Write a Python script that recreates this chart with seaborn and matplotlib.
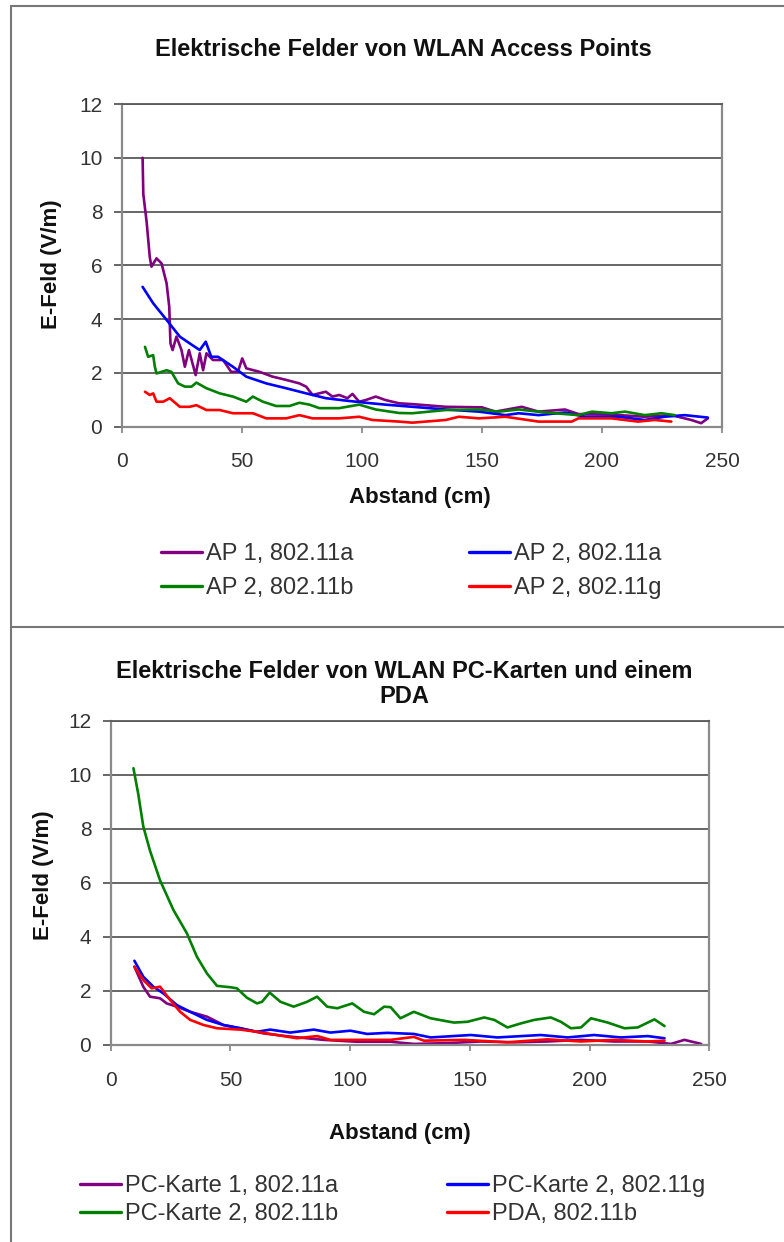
import numpy as np
import pandas as pd
import matplotlib
matplotlib.use("Agg")
import matplotlib.pyplot as plt
from matplotlib.lines import Line2D
import seaborn as sns

# ---------------- data ----------------
# top chart: access points
ap1_a_x = [8.7, 9.0, 10.4, 11.7, 12.4, 14.5, 16.6, 18.7, 19.8, 20.3, 21.2, 22.8, 24.9, 26.3, 28.0,
           30.8, 32.5, 33.9, 35.3, 38.0, 42.2, 45.6, 48.4, 50.2, 51.9, 57.4, 62.9, 68.5, 74.0, 76.8,
           79.5, 85.0, 87.8, 90.6, 94.0, 96.1, 98.9, 101.6, 105.8, 109.9, 115.5, 121.0, 134.9, 150.0,
           155.6, 166.6, 173.6, 184.6, 190.2, 204.0, 217.8, 228.9, 237.2, 241.3, 244.1]
ap1_a_y = [10.0, 8.65, 7.6, 6.3, 5.95, 6.26, 6.07, 5.33, 4.46, 3.1, 2.85, 3.35, 2.85, 2.23, 2.85,
           1.92, 2.73, 2.1, 2.73, 2.48, 2.48, 2.04, 2.04, 2.54, 2.17, 2.04, 1.86, 1.74, 1.61, 1.49,
           1.18, 1.3, 1.12, 1.18, 1.06, 1.22, 0.93, 0.99, 1.12, 0.99, 0.87, 0.84, 0.74, 0.72,
           0.56, 0.74, 0.56, 0.64, 0.47, 0.45, 0.37, 0.43, 0.25, 0.13, 0.31]

ap2_a_x = [8.7, 13.1, 18.7, 24.2, 28.3, 32.5, 35.0, 37.3, 40.1, 46.3, 51.9, 60.2, 68.5, 76.8, 85.0,
           93.4, 101.6, 109.9, 115.5, 134.9, 148.8, 159.8, 165.3, 173.6, 184.6, 193.0, 206.8, 217.8,
           226.1, 234.4, 244.1]
ap2_a_y = [5.2, 4.59, 3.97, 3.35, 3.1, 2.85, 3.16, 2.6, 2.6, 2.23, 1.86, 1.61, 1.43, 1.24, 1.06,
           0.97, 0.89, 0.82, 0.78, 0.64, 0.56, 0.43, 0.5, 0.43, 0.53, 0.37, 0.37, 0.25,
           0.37, 0.43, 0.34]

ap2_b_x = [9.7, 11.0, 13.1, 13.8, 14.5, 18.7, 20.7, 23.5, 26.3, 29.1, 31.1, 35.3, 40.8, 46.3, 51.9,
           54.6, 58.8, 64.3, 69.9, 74.0, 78.2, 82.3, 90.6, 98.9, 105.8, 115.5, 121.0, 134.9, 148.8,
           157.0, 165.3, 176.4, 190.2, 195.8, 204.0, 209.6, 217.8, 224.8, 230.3]
ap2_b_y = [2.97, 2.6, 2.66, 2.23, 1.98, 2.1, 2.04, 1.61, 1.49, 1.49, 1.64, 1.43, 1.24, 1.12, 0.93,
           1.12, 0.93, 0.77, 0.77, 0.89, 0.82, 0.69, 0.69, 0.82, 0.64, 0.51, 0.5, 0.62, 0.64,
           0.56, 0.64, 0.53, 0.43, 0.56, 0.5, 0.56, 0.43, 0.5, 0.43]

ap2_g_x = [9.7, 11.7, 13.1, 14.5, 17.3, 20.0, 24.2, 28.3, 31.1, 35.3, 40.8, 46.3, 54.6, 60.2, 68.5,
           74.0, 79.5, 90.6, 98.9, 104.4, 115.5, 121.0, 134.9, 140.4, 148.8, 159.8, 173.6, 187.4,
           190.2, 204.0, 215.0, 222.0, 228.9]
ap2_g_y = [1.3, 1.18, 1.24, 0.93, 0.93, 1.06, 0.74, 0.74, 0.8, 0.62, 0.62, 0.5, 0.5, 0.31, 0.31,
           0.43, 0.31, 0.31, 0.37, 0.25, 0.19, 0.15, 0.25, 0.37, 0.31, 0.37, 0.19, 0.19,
           0.31, 0.31, 0.19, 0.25, 0.19]

# bottom chart: pc cards and pda
pc1_a_x = [9.9, 13.6, 16.4, 20.6, 23.4, 27.6, 33.2, 40.2, 47.1, 54.1, 63.8, 75.0, 88.9, 102.9, 116.9,
           126.6, 140.6, 154.6, 168.5, 182.4, 196.4, 210.3, 224.3, 234.0, 239.6, 246.6]
pc1_a_y = [2.9, 2.16, 1.79, 1.73, 1.54, 1.42, 1.23, 1.05, 0.74, 0.62, 0.43, 0.31, 0.19, 0.12, 0.12,
           0.04, 0.07, 0.13, 0.1, 0.13, 0.19, 0.13, 0.13, 0.04, 0.19, 0.04]

pc2_g_x = [9.9, 13.6, 17.8, 22.0, 27.6, 33.2, 40.2, 47.1, 54.1, 61.1, 66.6, 75.0, 84.8, 91.8, 100.1,
           107.1, 115.5, 126.6, 133.6, 150.4, 161.5, 179.6, 190.8, 201.9, 213.1, 224.3, 231.3]
pc2_g_y = [3.12, 2.53, 2.16, 1.91, 1.48, 1.23, 0.93, 0.74, 0.62, 0.49, 0.57, 0.46, 0.57, 0.46, 0.53,
           0.41, 0.45, 0.41, 0.28, 0.37, 0.28, 0.37, 0.28, 0.37, 0.28, 0.33, 0.25]

pc2_b_x = [9.5, 11.5, 13.6, 16.4, 20.6, 26.2, 31.8, 36.0, 40.2, 44.4, 49.9, 52.7, 56.9, 61.1, 63.2,
           66.4, 70.9, 76.4, 82.0, 86.2, 90.4, 94.6, 100.9, 105.8, 110.0, 114.2, 116.9, 121.0, 126.6,
           133.6, 143.4, 149.0, 156.0, 160.2, 165.7, 171.3, 176.9, 183.8, 188.0, 192.2, 196.4, 200.6,
           207.6, 214.6, 220.1, 227.1, 231.3]
pc2_b_y = [10.25, 9.3, 8.1, 7.2, 6.1, 5.0, 4.14, 3.27, 2.65, 2.19, 2.14, 2.1, 1.75, 1.54, 1.6,
           1.94, 1.6, 1.42, 1.6, 1.79, 1.42, 1.36, 1.54, 1.23, 1.14, 1.42, 1.4, 0.99, 1.23,
           0.99, 0.83, 0.86, 1.02, 0.93, 0.65, 0.8, 0.93, 1.02, 0.86, 0.62, 0.65, 0.99,
           0.83, 0.62, 0.65, 0.95, 0.7]

pda_b_x = [9.9, 13.6, 17.1, 20.6, 24.8, 29.0, 33.2, 38.8, 44.4, 54.1, 61.1, 69.4, 77.8, 86.2, 91.8,
           102.9, 116.9, 126.6, 130.8, 147.6, 165.7, 182.4, 196.4, 210.3, 224.3, 231.3]
pda_b_y = [2.9, 2.41, 2.1, 2.16, 1.67, 1.23, 0.93, 0.74, 0.62, 0.57, 0.49, 0.37, 0.25, 0.33, 0.19,
           0.19, 0.19, 0.3, 0.16, 0.19, 0.1, 0.21, 0.13, 0.19, 0.13, 0.16]

labels_top = ["AP 1, 802.11a", "AP 2, 802.11a", "AP 2, 802.11b", "AP 2, 802.11g"]
labels_bot = ["PC-Karte 1, 802.11a", "PC-Karte 2, 802.11g", "PC-Karte 2, 802.11b", "PDA, 802.11b"]
colors = ["#800080", "#0000ff", "#008000", "#ff0000"]

title_top = "Elektrische Felder von WLAN Access Points"
title_bot = "Elektrische Felder von WLAN PC-Karten und einem\nPDA"
x_ticks = [0, 50, 100, 150, 200, 250]
y_ticks = [0, 2, 4, 6, 8, 10, 12]


def long_frame(series):
    parts = []
    for label, xs, ys in series:
        parts.append(pd.DataFrame({"Abstand": xs, "E": ys, "Serie": label}))
    return pd.concat(parts, ignore_index=True)


df_top = long_frame([(labels_top[0], ap1_a_x, ap1_a_y), (labels_top[1], ap2_a_x, ap2_a_y),
                     (labels_top[2], ap2_b_x, ap2_b_y), (labels_top[3], ap2_g_x, ap2_g_y)])
df_bot = long_frame([(labels_bot[0], pc1_a_x, pc1_a_y), (labels_bot[1], pc2_g_x, pc2_g_y),
                     (labels_bot[2], pc2_b_x, pc2_b_y), (labels_bot[3], pda_b_x, pda_b_y)])

# ---------------- figure ----------------
sns.set_theme(style="white")
plt.rcParams["font.family"] = ["Liberation Sans", "DejaVu Sans"]

W, H = 784, 1242
fig = plt.figure(figsize=(W / 100, H / 100), dpi=100)
fig.patch.set_facecolor("white")


def fx(px):
    return px / W


def fy(py):
    return 1 - py / H


ax_top = fig.add_axes([fx(121.7), fy(426.7), (722 - 121.7) / W, (426.7 - 104) / H])
ax_bot = fig.add_axes([fx(110.7), fy(1045), (709.3 - 110.7) / W, (1045 - 721) / H])

GRID = "#5a5a5a"
SPINE = "#8a8a8a"
TXT = "#333333"


def draw_panel(ax, df, labels):
    sns.lineplot(data=df, x="Abstand", y="E", hue="Serie", hue_order=labels,
                 palette=dict(zip(labels, colors)), estimator=None, sort=False,
                 lw=1.9, ax=ax, legend=False)
    ax.set_xlim(0, 250)
    ax.set_ylim(0, 12)
    ax.set_xticks(x_ticks)
    ax.set_yticks(y_ticks)
    ax.yaxis.grid(True, color=GRID, lw=1.3)
    ax.xaxis.grid(False)
    ax.set_xlabel("")
    ax.set_ylabel("")
    for s in ax.spines.values():
        s.set_color(SPINE)
        s.set_linewidth(1.6)
    ax.spines["top"].set_color(GRID)
    ax.spines["top"].set_linewidth(1.3)
    ax.tick_params(axis="y", left=True, length=6, width=1.3, color=GRID, pad=8,
                   labelsize=15, labelcolor=TXT)
    ax.tick_params(axis="x", bottom=True, length=4.5, width=1.3, color=SPINE, pad=14,
                   labelsize=15, labelcolor=TXT)


draw_panel(ax_top, df_top, labels_top)
draw_panel(ax_bot, df_bot, labels_bot)

# titles and axis labels
fig.text(fx(403), fy(50), title_top, ha="center", va="center", fontsize=17, fontweight="bold",
         color="#111111")
fig.text(fx(404), fy(684), title_bot, ha="center", va="center", fontsize=17, fontweight="bold",
         color="#111111", linespacing=1.1)
fig.text(fx(51), fy(264), "E-Feld (V/m)", rotation=90, ha="center", va="center", fontsize=16,
         fontweight="bold", color="#111111")
fig.text(fx(44), fy(875), "E-Feld (V/m)", rotation=90, ha="center", va="center", fontsize=16,
         fontweight="bold", color="#111111")
fig.text(fx(420), fy(498), "Abstand (cm)", ha="center", va="center", fontsize=16,
         fontweight="bold", color="#111111")
fig.text(fx(400), fy(1133), "Abstand (cm)", ha="center", va="center", fontsize=16,
         fontweight="bold", color="#111111")

# legends (row-major order as in the chart)
order = [0, 2, 1, 3]
handles = [Line2D([0], [0], color=colors[i], lw=2.4) for i in order]
fig.legend(handles, [labels_top[i] for i in order], ncol=2, loc="center left",
           bbox_to_anchor=(fx(161), fy(571)), frameon=False, fontsize=17, handlelength=1.74,
           handletextpad=0.17, borderpad=0, borderaxespad=0, columnspacing=4.9,
           labelspacing=0.5, labelcolor=TXT)
fig.legend(handles, [labels_bot[i] for i in order], ncol=2, loc="center left",
           bbox_to_anchor=(fx(80), fy(1200)), frameon=False, fontsize=17, handlelength=1.74,
           handletextpad=0.17, borderpad=0, borderaxespad=0, columnspacing=4.6,
           labelspacing=0.25, labelcolor=TXT)

# chart area frame
FRAME = "#777777"
fig.add_artist(Line2D([fx(11), 1], [fy(6), fy(6)], transform=fig.transFigure, color=FRAME, lw=1.5))
fig.add_artist(Line2D([fx(11), fx(11)], [fy(6), 0], transform=fig.transFigure, color=FRAME, lw=1.5))
fig.add_artist(Line2D([fx(11), 1], [fy(627), fy(627)], transform=fig.transFigure, color=FRAME, lw=1.5))

fig.savefig("out.png", dpi=100)
